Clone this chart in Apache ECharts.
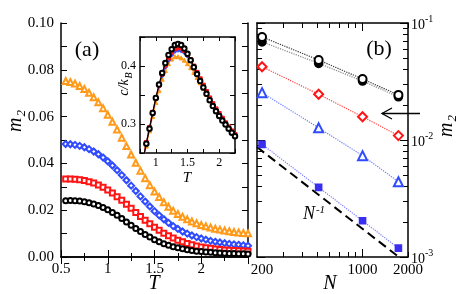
<!DOCTYPE html>
<html><head><meta charset="utf-8">
<script src="https://cdn.jsdelivr.net/npm/echarts@6/dist/echarts.min.js"></script>
<style>html,body{margin:0;padding:0;background:#fff}#c{width:458px;height:294px}</style>
</head><body><div id="c"></div>
<script>
// ---------- data ----------
const T_main = [0.55,0.60,0.65,0.70,0.75,0.80,0.85,0.90,0.95,1.00,1.05,1.10,1.15,1.20,1.25,1.30,1.35,1.40,1.45,1.50,1.55,1.60,1.65,1.70,1.75,1.80,1.85,1.90,1.95,2.00,2.05,2.10,2.15,2.20,2.25,2.30,2.35,2.40,2.45,2.50];
const m2_N216 = [0.0752,0.0748,0.0741,0.0731,0.0718,0.0702,0.0683,0.0661,0.0636,0.0608,
 0.0578,0.0545,0.0510,0.0474,0.0438,0.0403,0.0369,0.0337,0.0307,0.0280,
 0.0256,0.0234,0.0215,0.0198,0.0184,0.0172,0.0161,0.0152,0.0144,0.0137,
 0.0131,0.0126,0.0121,0.0117,0.0113,0.0110,0.0107,0.0105,0.0103,0.0101];
const m2_N512 = [0.0483,0.0482,0.0479,0.0475,0.0469,0.0461,0.0451,0.0439,0.0425,0.0409,
 0.0391,0.0371,0.0350,0.0328,0.0305,0.0282,0.0259,0.0237,0.0216,0.0196,
 0.0178,0.0161,0.0146,0.0132,0.0120,0.0109,0.0100,0.0092,0.0085,0.0079,
 0.0074,0.0069,0.0065,0.0062,0.0059,0.0056,0.0054,0.0052,0.0050,0.0048];
const m2_N1000 = [0.0333,0.0333,0.0332,0.0330,0.0327,0.0322,0.0316,0.0308,0.0298,0.0286,
 0.0273,0.0258,0.0242,0.0225,0.0208,0.0190,0.0173,0.0157,0.0142,0.0127,
 0.0114,0.0102,0.0091,0.0081,0.0072,0.0065,0.0058,0.0052,0.0047,0.0043,
 0.0040,0.0037,0.0034,0.0032,0.0030,0.0029,0.0028,0.0027,0.0026,0.0025];
const m2_N1728 = [0.0240,0.0241,0.0240,0.0239,0.0236,0.0232,0.0227,0.0220,0.0212,0.0202,
 0.0190,0.0178,0.0164,0.0150,0.0136,0.0122,0.0109,0.0096,0.0085,0.0074,
 0.0065,0.0057,0.0050,0.0044,0.0039,0.0035,0.0031,0.0028,0.0025,0.0023,
 0.0021,0.0020,0.0018,0.0017,0.0016,0.0015,0.0015,0.0014,0.0014,0.0013];

const T_inset = [0.80,0.85,0.90,0.95,1.00,1.05,1.10,1.15,1.20,1.25,1.30,1.35,1.40,1.45,1.50,1.55,1.60,1.65,1.70,1.75,1.80,1.85,1.90,1.95,2.00,2.05,2.10,2.15,2.20,2.25];
const c_N1728 = [0.240,0.266,0.292,0.319,0.345,0.368,0.388,0.405,0.419,0.429,0.436,0.438,0.436,0.430,0.421,0.410,0.398,0.386,0.374,0.363,0.352,0.341,0.331,0.322,0.314,0.306,0.299,0.292,0.285,0.279];
const c_N1000 = [0.241,0.268,0.294,0.320,0.345,0.367,0.386,0.402,0.414,0.424,0.430,0.432,0.431,0.427,0.420,0.411,0.400,0.389,0.378,0.367,0.356,0.345,0.335,0.326,0.318,0.310,0.302,0.295,0.288,0.282];
const c_N512 = [0.241,0.268,0.294,0.319,0.344,0.365,0.383,0.398,0.410,0.419,0.425,0.427,0.426,0.423,0.417,0.409,0.399,0.388,0.377,0.366,0.355,0.344,0.334,0.325,0.317,0.309,0.301,0.294,0.287,0.281];
const c_N216 = [0.237,0.262,0.288,0.313,0.337,0.358,0.377,0.392,0.404,0.412,0.416,0.416,0.414,0.410,0.404,0.397,0.389,0.380,0.371,0.361,0.351,0.341,0.332,0.323,0.315,0.307,0.299,0.292,0.286,0.280];

const N_sizes = [216, 512, 1000, 1728];
const m2b_openCircle = [0.0760, 0.0483, 0.0332, 0.0243];
const m2b_fullCircle = [0.0690, 0.0452, 0.0319, 0.0234];
const m2b_diamond = [0.0423, 0.0246, 0.0158, 0.0109];
const m2b_triangle = [0.0254, 0.0127, 0.00735, 0.0044];
const m2b_square = [0.00918, 0.00394, 0.00204, 0.00119];
const N_ref = [200, 2000];
const m2_ref = [0.0087, 0.00087];

const bMajorY = [0.001, 0.01, 0.1];
const bMinorY = [0.002,0.003,0.004,0.005,0.006,0.007,0.008,0.009,0.02,0.03,0.04,0.05,0.06,0.07,0.08,0.09];
const bMajorX = [1000];
const bMinorX = [300,400,500,600,700,800,900,2000];
const bLabelX = [200, 1000, 2000];

// ---------- helpers ----------
const SERIF = "'Liberation Serif','DejaVu Serif',serif";
const ORANGE = '#ff9a1a', BLUE = '#2f4bff', RED = '#ff1414', SQB = '#3a2ff0';
const pairs = (xs, ys) => xs.map((x, i) => [x, ys[i]]);
const line = {show: true, lineStyle: {color: '#000', width: 1.5}};
const noLine = {show: false};
function tick(len) { return {show: true, inside: true, length: len, lineStyle: {color: '#000', width: 1}}; }
function lbl(extra) { return Object.assign({color: '#000', fontFamily: SERIF, fontSize: 15}, extra); }

const xAxis = [
  {gridIndex: 0, type: 'value', position: 'bottom', min: 0.5, max: 2.5, interval: 0.5,
   axisLine: line, axisTick: tick(7), minorTick: {show: true, splitNumber: 2, length: 4, lineStyle: {color: '#000'}},
   splitLine: {show: false}, axisLabel: lbl({margin: 5, showMaxLabel: false})},
  {gridIndex: 0, type: 'value', position: 'top', min: 0.5, max: 2.5, interval: 0.5,
   axisLine: line, axisTick: tick(7), minorTick: {show: true, splitNumber: 2, length: 4, lineStyle: {color: '#000'}},
   splitLine: {show: false}, axisLabel: {show: false}},
  {gridIndex: 1, type: 'value', position: 'bottom', min: 0.75, max: 2.25, interval: 0.25,
   axisLine: line, axisTick: tick(4), splitLine: {show: false},
   axisLabel: lbl({fontSize: 12, margin: 4, formatter: v => Math.abs(v * 2 - Math.round(v * 2)) < 1e-6 ? String(v) : ''})},
  {gridIndex: 1, type: 'value', position: 'top', min: 0.75, max: 2.25, interval: 0.25,
   axisLine: line, axisTick: tick(4), splitLine: {show: false}, axisLabel: {show: false}},
  {gridIndex: 2, type: 'log', logBase: 10, position: 'bottom', min: 200, max: 2000,
   axisLine: line, axisTick: Object.assign(tick(8), {customValues: bMajorX}), splitLine: {show: false},
   axisLabel: lbl({margin: 6, customValues: bLabelX, formatter: v => Math.round(v) === 200 ? '{f|200}' : String(Math.round(v)),
     rich: {f: {fontFamily: SERIF, fontSize: 15, color: '#000', padding: [0, 0, 0, 10]}}})},
  {gridIndex: 2, type: 'log', logBase: 10, position: 'bottom', min: 200, max: 2000,
   axisLine: noLine, axisTick: Object.assign(tick(5), {customValues: bMinorX}), splitLine: {show: false}, axisLabel: {show: false}},
  {gridIndex: 2, type: 'log', logBase: 10, position: 'top', min: 200, max: 2000,
   axisLine: line, axisTick: Object.assign(tick(8), {customValues: bMajorX}), splitLine: {show: false}, axisLabel: {show: false}},
  {gridIndex: 2, type: 'log', logBase: 10, position: 'top', min: 200, max: 2000,
   axisLine: noLine, axisTick: Object.assign(tick(5), {customValues: bMinorX}), splitLine: {show: false}, axisLabel: {show: false}}
];

const yAxis = [
  {gridIndex: 0, type: 'value', position: 'left', min: 0, max: 0.1, interval: 0.02,
   axisLine: line, axisTick: tick(6), minorTick: {show: true, splitNumber: 2, length: 6, lineStyle: {color: '#000'}},
   splitLine: {show: false}, axisLabel: lbl({margin: 7, formatter: v => v.toFixed(2)})},
  {gridIndex: 0, type: 'value', position: 'right', min: 0, max: 0.1, interval: 0.02,
   axisLine: line, axisTick: tick(6), minorTick: {show: true, splitNumber: 2, length: 6, lineStyle: {color: '#000'}},
   splitLine: {show: false}, axisLabel: {show: false}},
  {gridIndex: 1, type: 'value', position: 'left', min: 0.25, max: 0.45, interval: 0.05,
   axisLine: line, axisTick: tick(5), splitLine: {show: false},
   axisLabel: lbl({fontSize: 12, margin: 4, formatter: v => Math.abs(v * 10 - Math.round(v * 10)) < 1e-6 ? v.toFixed(1) : ''})},
  {gridIndex: 1, type: 'value', position: 'right', min: 0.25, max: 0.45, interval: 0.05,
   axisLine: line, axisTick: tick(5), splitLine: {show: false}, axisLabel: {show: false}},
  {gridIndex: 2, type: 'log', logBase: 10, position: 'left', min: 0.001, max: 0.1,
   axisLine: line, axisTick: Object.assign(tick(8), {customValues: bMajorY}), splitLine: {show: false}, axisLabel: {show: false}},
  {gridIndex: 2, type: 'log', logBase: 10, position: 'left', min: 0.001, max: 0.1,
   axisLine: noLine, axisTick: Object.assign(tick(5), {customValues: bMinorY}), splitLine: {show: false}, axisLabel: {show: false}},
  {gridIndex: 2, type: 'log', logBase: 10, position: 'right', min: 0.001, max: 0.1,
   axisLine: line, axisTick: Object.assign(tick(8), {customValues: bMajorY}), splitLine: {show: false},
   axisLabel: {show: true, margin: 3, customValues: bMajorY,
     formatter: v => '{b|10}{s|' + Math.round(Math.log10(v)) + '}',
     rich: {b: {fontFamily: SERIF, fontSize: 14, color: '#000', verticalAlign: 'bottom'},
            s: {fontFamily: SERIF, fontSize: 10, color: '#000', verticalAlign: 'bottom', padding: [0, 0, 8, 0]}}}},
  {gridIndex: 2, type: 'log', logBase: 10, position: 'right', min: 0.001, max: 0.1,
   axisLine: noLine, axisTick: Object.assign(tick(5), {customValues: bMinorY}), splitLine: {show: false}, axisLabel: {show: false}}
];

function mainSeries(ys, color, symbol, size) {
  return {type: 'line', xAxisIndex: 0, yAxisIndex: 0, data: pairs(T_main, ys), symbol: symbol, symbolSize: size,
    showAllSymbol: true, lineStyle: {color: color, width: 0.8, opacity: 0.5},
    itemStyle: {color: color, borderColor: color, borderWidth: 1}, z: 3, animation: false};
}
function insetSeries(ys, color, symbol, size, z) {
  return {type: 'line', xAxisIndex: 2, yAxisIndex: 2, data: pairs(T_inset, ys), symbol: symbol, symbolSize: size,
    showAllSymbol: true, lineStyle: {color: color, width: 1}, itemStyle: {color: color, borderColor: color, borderWidth: 1},
    z: z, animation: false};
}
function bSeries(ys, color, symbol, size, lineColor, z) {
  return {type: 'line', xAxisIndex: 4, yAxisIndex: 4, data: pairs(N_sizes, ys), symbol: symbol, symbolSize: size,
    showAllSymbol: true, lineStyle: {color: lineColor, width: 1.2, type: 'dotted'},
    itemStyle: {color: color, borderColor: color, borderWidth: 1.6}, z: z, animation: false};
}

const series = [
  mainSeries(m2_N216, ORANGE, 'emptyTriangle', 6),
  mainSeries(m2_N512, BLUE, 'emptyDiamond', 6),
  mainSeries(m2_N1000, RED, 'emptyRect', 5),
  mainSeries(m2_N1728, '#000', 'emptyCircle', 5),
  insetSeries(c_N216, ORANGE, 'triangle', 4, 4),
  insetSeries(c_N512, BLUE, 'diamond', 4, 5),
  insetSeries(c_N1000, RED, 'rect', 4, 6),
  Object.assign(insetSeries(c_N1728, '#000', 'emptyCircle', 4.5, 7), {itemStyle: {color: '#000', borderColor: '#000', borderWidth: 1.4}, lineStyle: {color: '#000', width: 1.2}}),
  {type: 'line', xAxisIndex: 4, yAxisIndex: 4, data: pairs(N_ref, m2_ref), symbol: 'none',
   lineStyle: {color: '#000', width: 2, type: [9, 5]}, z: 3, animation: false},
  bSeries(m2b_fullCircle, '#000', 'circle', 8, '#888', 4),
  bSeries(m2b_openCircle, '#000', 'emptyCircle', 8, '#333', 5),
  bSeries(m2b_diamond, RED, 'emptyDiamond', 9, '#ff4040', 5),
  bSeries(m2b_triangle, BLUE, 'emptyTriangle', 9, '#6b7dff', 5),
  bSeries(m2b_square, SQB, 'rect', 6, '#7c7cff', 5)
];

const t = (text, x, y, rich, rot) => ({type: 'text', x: x, y: y, rotation: rot || 0, z: 20,
  style: {text: text, rich: rich, align: 'center', verticalAlign: 'middle', fill: '#000', fontFamily: SERIF}});
const it = (fs) => ({fontFamily: SERIF, fontStyle: 'italic', fontSize: fs, color: '#000', verticalAlign: 'top'});
const sub = (fs, pad) => ({fontFamily: SERIF, fontStyle: 'italic', fontSize: fs, color: '#000', verticalAlign: 'top', padding: [pad, 0, 0, 1]});
const sup = (fs, pad) => ({fontFamily: SERIF, fontStyle: 'italic', fontSize: fs, color: '#000', verticalAlign: 'bottom', padding: [0, 0, pad, 1]});
const itb = (fs) => ({fontFamily: SERIF, fontStyle: 'italic', fontSize: fs, color: '#000', verticalAlign: 'bottom'});
const plain = (fs) => ({fontFamily: SERIF, fontSize: fs, color: '#000'});

const graphic = [
  t('{p|(a)}', 87, 50, {p: plain(22)}),
  t('{p|(b)}', 379, 49, {p: plain(22)}),
  t('{i|m}{s|2}', 17, 121, {i: it(20), s: sub(13, 9)}, Math.PI / 2),
  t('{i|m}{s|2}', 448, 126, {i: it(20), s: sub(13, 9)}, Math.PI / 2),
  t('{i|T}', 154, 284, {i: it(20)}),
  t('{i|N}', 330, 284, {i: it(20)}),
  t('{i|T}', 187, 178, {i: it(15)}),
  t('{i|c/k}{s|B}', 126, 84, {i: it(14), s: sub(10, 7)}, Math.PI / 2),
  t('{i|N}{s|-1}', 314, 214, {i: itb(18), s: sup(11, 8)}),
  {type: 'line', z: 20, shape: {x1: 420, y1: 113.5, x2: 382, y2: 113.5}, style: {stroke: '#000', lineWidth: 1.3}},
  {type: 'polyline', z: 20, shape: {points: [[392, 108], [382, 113.5], [392, 119]]}, style: {stroke: '#000', lineWidth: 1.3, fill: null}}
];

const chart = echarts.init(document.getElementById('c'), null, {renderer: 'canvas'});
chart.setOption({
  animation: false,
  backgroundColor: '#fff',
  grid: [
    {left: 61, top: 23, width: 187, height: 234, containLabel: false},
    {left: 140, top: 37, width: 95, height: 116, containLabel: false, show: true, backgroundColor: '#fff', borderWidth: 0},
    {left: 257, top: 23, width: 151, height: 234, containLabel: false}
  ],
  xAxis: xAxis,
  yAxis: yAxis,
  series: series,
  graphic: graphic
});
</script></body></html>
